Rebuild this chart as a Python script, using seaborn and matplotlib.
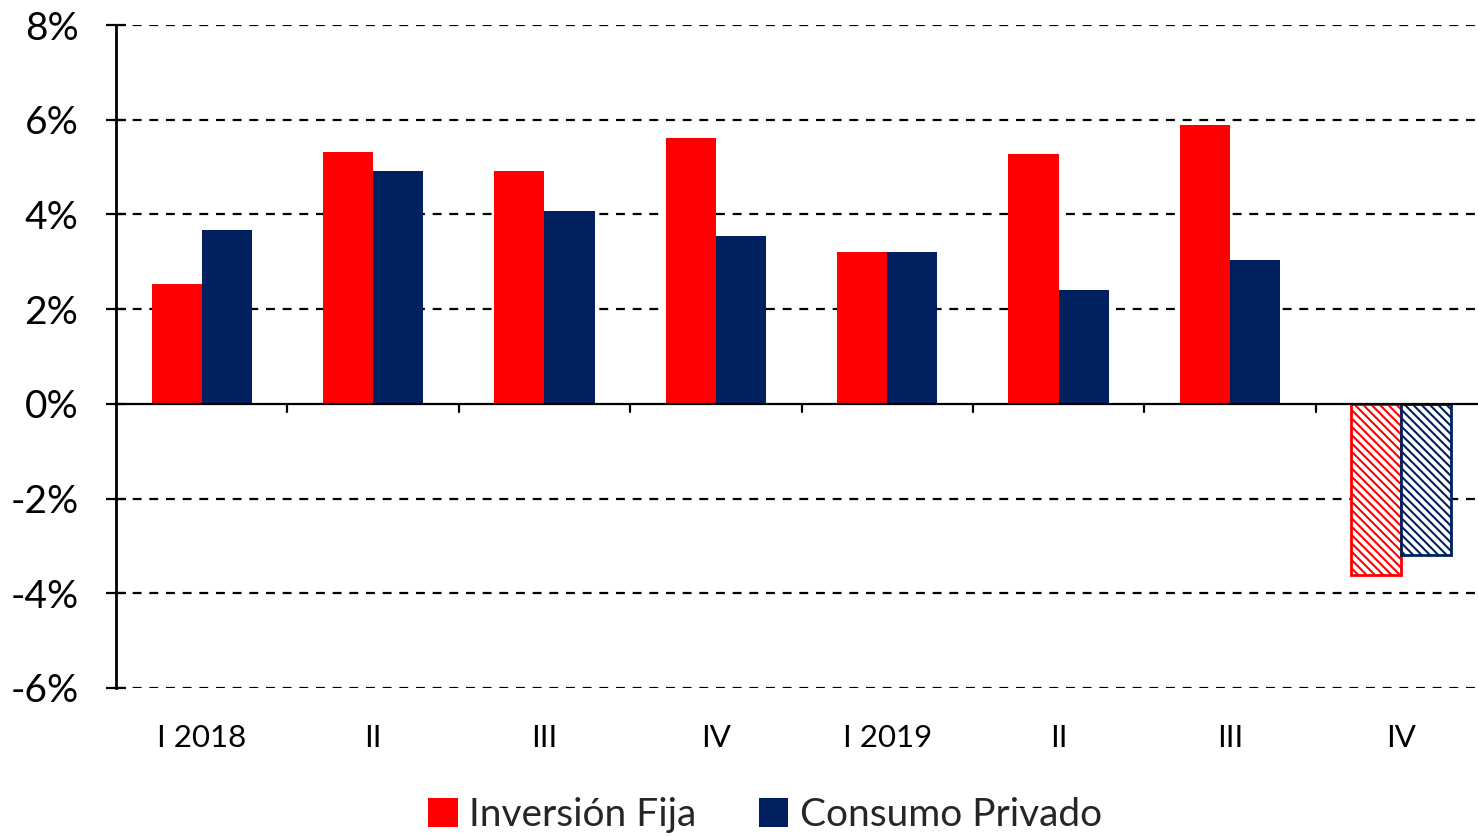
import matplotlib
matplotlib.use("Agg")
import matplotlib.pyplot as plt
from matplotlib.patches import Patch
from matplotlib.ticker import FuncFormatter
import seaborn as sns
import pandas as pd

# Quarterly growth rates (%), last quarter is an estimate
quarters = ["I 2018", "II", "III", "IV", "I 2019", "II", "III", "IV"]
inversion_fija = [2.53, 5.32, 4.92, 5.62, 3.21, 5.28, 5.89, -3.61]
consumo_privado = [3.67, 4.92, 4.08, 3.55, 3.21, 2.41, 3.04, -3.19]
series_names = ["Inversión Fija", "Consumo Privado"]
colors = ["#FF0000", "#002060"]

n = len(quarters)
df = pd.DataFrame({
    "pos": list(range(n)) * 2,
    "valor": inversion_fija + consumo_privado,
    "serie": [series_names[0]] * n + [series_names[1]] * n,
})

sns.set_theme(style="white")
plt.rcParams["font.family"] = ["Lato", "DejaVu Sans"]
plt.rcParams["hatch.linewidth"] = 1.5

fig = plt.figure(figsize=(14.78, 8.36), dpi=100)
W, H = 1478, 836
ax = fig.add_axes([116 / W, (H - 688) / H, (1487 - 116) / W, (688 - 25) / H])

sns.barplot(data=df, x="pos", y="valor", hue="serie", hue_order=series_names,
            palette=colors, width=0.585, saturation=1, ax=ax, legend=False,
            edgecolor="none", linewidth=0)

# Estimated quarter: hatched, unfilled bars
for cont, col in zip(ax.containers, colors):
    bar = cont.patches[-1]
    bar.set_facecolor("white")
    bar.set_edgecolor(col)
    bar.set_hatch("\\\\\\\\")
    bar.set_linewidth(2.0)

ax.set_ylim(-6, 8)
ax.set_xlim(-0.5, n - 0.5)
ax.set_yticks(range(-6, 9, 2))
ax.yaxis.set_major_formatter(FuncFormatter(lambda v, _: f"{v:.0f}%"))
for y in range(-6, 9, 2):
    if y != 0:
        ax.axhline(y, color="black", linestyle=(0, (4, 3.5)), linewidth=1.6, zorder=0.5)
ax.axhline(0, color="black", linewidth=1.6, zorder=3)

# Category labels below the axes, separator ticks on the zero line
ax.set_xticks([])
for i, q in enumerate(quarters):
    ax.text(i, -7.05, q, ha="center", va="center", fontsize=22.5, color="black")
for b in range(1, n):
    ax.plot([b - 0.5, b - 0.5], [0, -0.18], color="black", linewidth=1.6,
            zorder=3, clip_on=False)

for s in ["top", "right", "bottom"]:
    ax.spines[s].set_visible(False)
ax.spines["left"].set_color("black")
ax.spines["left"].set_linewidth(2.0)
ax.tick_params(axis="y", direction="inout", length=14, width=1.6,
               labelsize=28, colors="black", left=True, pad=20)
ax.set_xlabel("")
ax.set_ylabel("")

handles = [Patch(facecolor=c, edgecolor="none") for c in colors]
fig.legend(handles, series_names, loc="center", bbox_to_anchor=(765 / W, 1 - 815 / H),
           ncol=2, frameon=False, fontsize=28, handlelength=0.75, handleheight=0.75,
           handletextpad=0.3, columnspacing=1.6)

fig.savefig("out.png", dpi=100)
